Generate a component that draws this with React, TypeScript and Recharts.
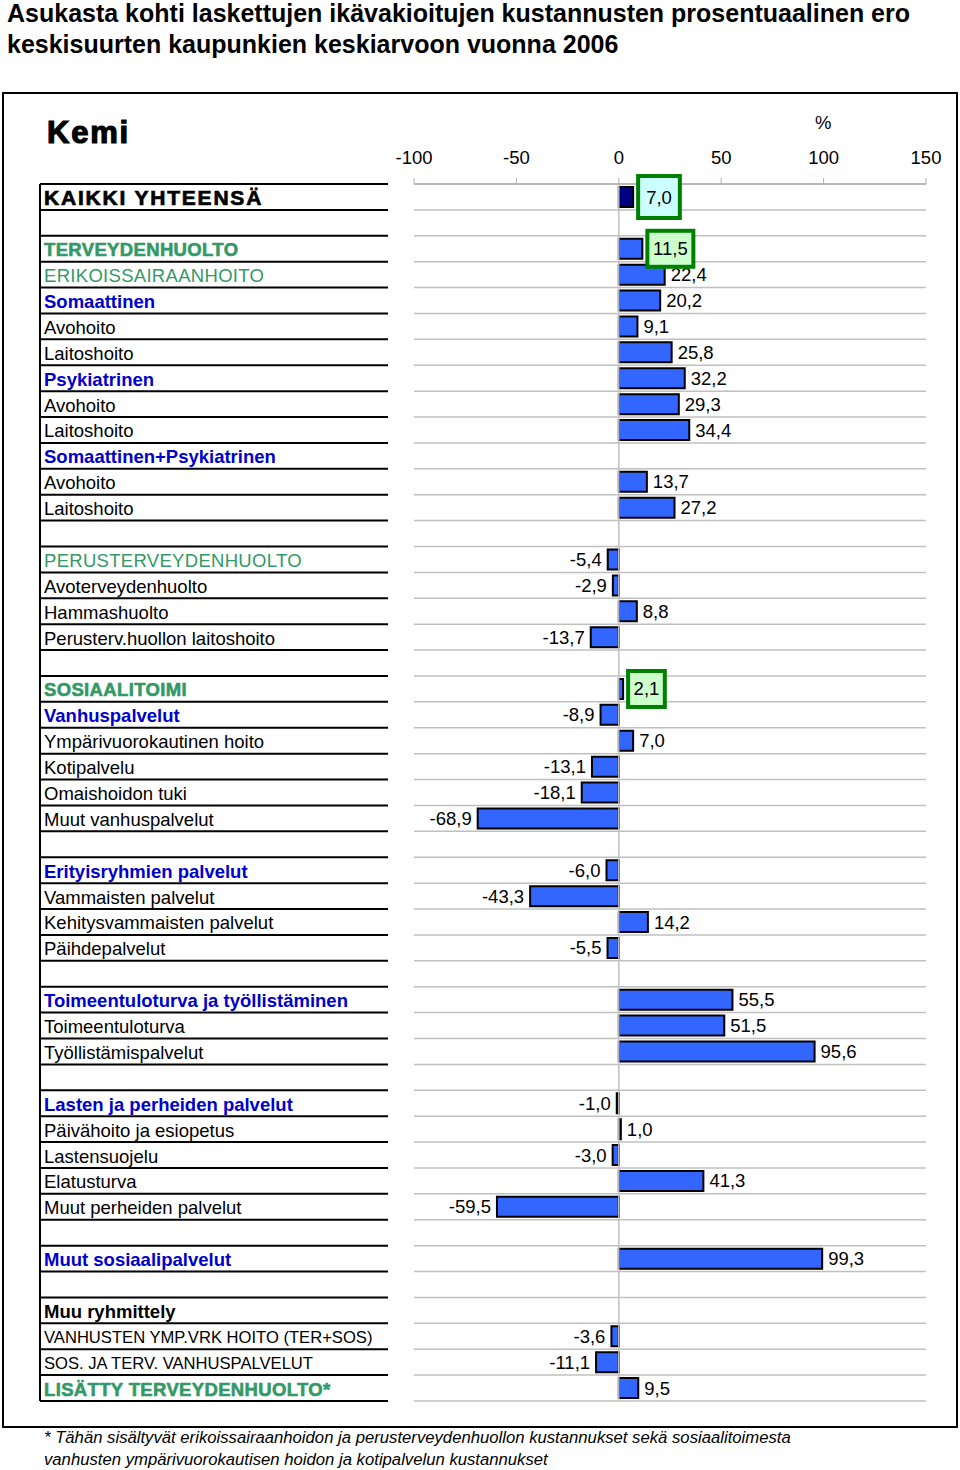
import React from "react";
import { BarChart, Bar, XAxis, YAxis, CartesianGrid, ReferenceLine, LabelList, Cell } from "recharts";

const FONT = '"Liberation Sans", Arial, Helvetica, sans-serif';

const categories = [
  "KAIKKI YHTEENSÄ", "",
  "TERVEYDENHUOLTO", "ERIKOISSAIRAANHOITO", "Somaattinen", "Avohoito", "Laitoshoito",
  "Psykiatrinen", "Avohoito", "Laitoshoito", "Somaattinen+Psykiatrinen", "Avohoito", "Laitoshoito", "",
  "PERUSTERVEYDENHUOLTO", "Avoterveydenhuolto", "Hammashuolto", "Perusterv.huollon laitoshoito", "",
  "SOSIAALITOIMI", "Vanhuspalvelut", "Ympärivuorokautinen hoito", "Kotipalvelu", "Omaishoidon tuki", "Muut vanhuspalvelut", "",
  "Erityisryhmien palvelut", "Vammaisten palvelut", "Kehitysvammaisten palvelut", "Päihdepalvelut", "",
  "Toimeentuloturva ja työllistäminen", "Toimeentuloturva", "Työllistämispalvelut", "",
  "Lasten ja perheiden palvelut", "Päivähoito ja esiopetus", "Lastensuojelu", "Elatusturva", "Muut perheiden palvelut", "",
  "Muut sosiaalipalvelut", "",
  "Muu ryhmittely", "VANHUSTEN YMP.VRK HOITO (TER+SOS)", "SOS. JA TERV. VANHUSPALVELUT", "LISÄTTY TERVEYDENHUOLTO*",
];

const values: (number | null)[] = [
  7.0, null,
  11.5, 22.4, 20.2, 9.1, 25.8,
  32.2, 29.3, 34.4, null, 13.7, 27.2, null,
  -5.4, -2.9, 8.8, -13.7, null,
  2.1, -8.9, 7.0, -13.1, -18.1, -68.9, null,
  -6.0, -43.3, 14.2, -5.5, null,
  55.5, 51.5, 95.6, null,
  -1.0, 1.0, -3.0, 41.3, -59.5, null,
  99.3, null,
  null, -3.6, -11.1, 9.5,
];

// label look per row: T total, H heavy green, G green, B blue bold, K black bold, P plain, S small
const labelKinds = [
  "T", "",
  "H", "G", "B", "P", "P",
  "B", "P", "P", "B", "P", "P", "",
  "G", "P", "P", "P", "",
  "H", "B", "P", "P", "P", "P", "",
  "B", "P", "P", "P", "",
  "B", "P", "P", "",
  "B", "P", "P", "P", "P", "",
  "B", "",
  "K", "S", "S", "H",
];

const xTicks = [-100, -50, 0, 50, 100, 150];

const highlights: Record<number, { fill: string; pad: number; h: number }> = {
  0: { fill: "#CCFFFF", pad: 16, h: 42 },
  2: { fill: "#CCFFCC", pad: 10, h: 36 },
  19: { fill: "#CCFFCC", pad: 11, h: 36 },
};

const kindStyle: Record<string, any> = {
  T: { fontSize: 21, fontWeight: 700, fill: "#000", letterSpacing: 1.8, stroke: "#000", strokeWidth: 0.7 },
  H: { fontSize: 18.5, fontWeight: 700, fill: "#339966", stroke: "#339966", strokeWidth: 0.6, letterSpacing: 0.35 },
  G: { fontSize: 18.5, fontWeight: 400, fill: "#339966", letterSpacing: 0.3 },
  B: { fontSize: 18.5, fontWeight: 700, fill: "#0000CC" },
  K: { fontSize: 18.5, fontWeight: 700, fill: "#000" },
  P: { fontSize: 18.5, fontWeight: 400, fill: "#000" },
  S: { fontSize: 16.6, fontWeight: 400, fill: "#000" },
};

const data = categories.map((name, i) => ({ key: String(i), name, value: values[i] }));

const W = 960;
const H = 1470;
const TOP = 184;
const BOTTOM = 69;
const ROW_H = (H - TOP - BOTTOM) / categories.length;

const fmt = (v: number) => v.toFixed(1).replace(".", ",");
const textWidth = (s: string) =>
  s.split("").reduce((w, c) => w + (c === "," ? 5.14 : c === "-" ? 6.16 : 10.29), 0);

function RowLabel(props: any) {
  const { y, payload } = props;
  const i = Number(payload.value);
  const kind = labelKinds[i];
  const top = y - ROW_H / 2;
  const bottom = y + ROW_H / 2;
  return (
    <g>
      {i === 0 && <line x1={40} x2={388} y1={top} y2={top} stroke="#000" strokeWidth={2} />}
      {i === 0 && (
        <line x1={40} x2={40} y1={top} y2={top + ROW_H * categories.length} stroke="#000" strokeWidth={2} />
      )}
      <line x1={40} x2={388} y1={bottom} y2={bottom} stroke="#000" strokeWidth={2} />
      {kind && (
        <text x={44} y={y + 1} dominantBaseline="central" fontFamily={FONT} {...kindStyle[kind]}>
          {categories[i]}
        </text>
      )}
    </g>
  );
}

function geom(p: any) {
  const vb = p.viewBox || {};
  const x = Number(p.x ?? vb.x);
  const y = Number(p.y ?? vb.y);
  const width = Number(p.width ?? vb.width);
  const height = Number(p.height ?? vb.height);
  return { left: Math.min(x, x + width), right: Math.max(x, x + width), cy: y + height / 2 };
}

// labels are keyed by row so that rows without a value do not shift the index
function ValueLabel(p: any) {
  const row = Number(p.value);
  const value = values[row];
  if (value == null || highlights[row]) return null;
  const { left, right, cy } = geom(p);
  const pos = value >= 0;
  return (
    <text
      x={pos ? right + 6 : left - 6}
      y={cy}
      textAnchor={pos ? "start" : "end"}
      dominantBaseline="central"
      fontFamily={FONT}
      fontSize={18.5}
      fill="#000"
    >
      {fmt(value)}
    </text>
  );
}

function BoxLabel(p: any) {
  const row = Number(p.value);
  const value = values[row];
  const hl = highlights[row];
  if (value == null || !hl) return null;
  const { right, cy } = geom(p);
  const s = fmt(value);
  const bw = textWidth(s) + hl.pad;
  const bx = right + 5;
  return (
    <g>
      <rect x={bx} y={cy - hl.h / 2} width={bw} height={hl.h} fill={hl.fill} stroke="#008000" strokeWidth={4} />
      <text x={bx + bw / 2} y={cy} textAnchor="middle" dominantBaseline="central" fontFamily={FONT} fontSize={18.5} fill="#000">
        {s}
      </text>
    </g>
  );
}

export default function App() {
  return (
    <div style={{ position: "absolute", left: 0, top: 0, width: W, height: H, background: "#fff", fontFamily: FONT }}>
      <div style={{ position: "absolute", left: 7, top: -2, fontSize: 25, fontWeight: 700, lineHeight: "31px" }}>
        Asukasta kohti laskettujen ikävakioitujen kustannusten prosentuaalinen ero
        <br />
        keskisuurten kaupunkien keskiarvoon vuonna 2006
      </div>
      <div
        style={{
          position: "absolute",
          left: 2,
          top: 92,
          width: 956,
          height: 1336,
          border: "2px solid #000",
          boxSizing: "border-box",
        }}
      />
      <div style={{ position: "absolute", left: 0, top: 0 }}>
        <BarChart
          width={W}
          height={H}
          data={data}
          layout="vertical"
          margin={{ top: TOP - 30, right: 34, bottom: BOTTOM, left: 0 }}
          barCategoryGap={0}
        >
          <CartesianGrid
            vertical={false}
            stroke="#c0c0c0"
            strokeWidth={1.5}
            horizontalCoordinatesGenerator={({ offset }: any) =>
              Array.from({ length: categories.length + 1 }, (_, i) => offset.top + (i * offset.height) / categories.length)
            }
          />
          <XAxis
            type="number"
            orientation="top"
            domain={[-100, 150]}
            ticks={xTicks}
            interval={0}
            height={30}
            tickSize={6}
            tickMargin={14}
            axisLine={{ stroke: "#b0b0b0", strokeWidth: 1.5 }}
            tickLine={{ stroke: "#b0b0b0" }}
            tick={{ fill: "#000", fontSize: 18.5, fontFamily: FONT }}
          />
          <YAxis
            type="category"
            dataKey="key"
            width={414}
            interval={0}
            axisLine={false}
            tickLine={false}
            tick={(p: any) => <RowLabel {...p} />}
          />
          <ReferenceLine x={0} stroke="#c0c0c0" strokeWidth={1.5} />
          <Bar dataKey="value" barSize={20} fill="#3366FF" stroke="#000" strokeWidth={2} isAnimationActive={false}>
            {data.map((d, i) => (
              <Cell key={d.key} fill={i === 0 ? "#000080" : "#3366FF"} />
            ))}
            <LabelList dataKey="key" content={(p: any) => <ValueLabel {...p} />} />
            <LabelList dataKey="key" content={(p: any) => <BoxLabel {...p} />} />
          </Bar>
        </BarChart>
      </div>
      <div style={{ position: "absolute", left: 47, top: 115, fontSize: 31, fontWeight: 900, letterSpacing: 1.8, WebkitTextStroke: "1.2px #000" }}>
        Kemi
      </div>
      <div style={{ position: "absolute", left: 815, top: 112, fontSize: 18.5 }}>%</div>
      <div style={{ position: "absolute", left: 44, top: 1427, fontSize: 16.7, fontStyle: "italic", lineHeight: "22px" }}>
        * Tähän sisältyvät erikoissairaanhoidon ja perusterveydenhuollon kustannukset sekä sosiaalitoimesta
        <br />
        vanhusten ympärivuorokautisen hoidon ja kotipalvelun kustannukset
      </div>
    </div>
  );
}
